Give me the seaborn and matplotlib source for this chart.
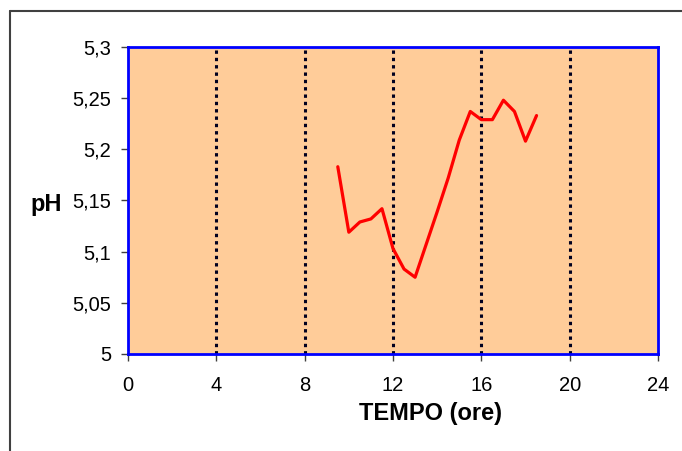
import matplotlib
matplotlib.use("Agg")
import matplotlib.pyplot as plt
import seaborn as sns
import pandas as pd
from matplotlib.lines import Line2D

# Data
tempo = [9.5, 10, 10.5, 11, 11.5, 12, 12.5, 13, 13.5, 14, 14.5, 15, 15.5, 16, 16.5, 17, 17.5, 18, 18.5]
ph = [5.183, 5.119, 5.129, 5.132, 5.142, 5.103, 5.083, 5.075, 5.107, 5.139, 5.172, 5.209, 5.237,
      5.229, 5.229, 5.248, 5.237, 5.208, 5.233]
x_ticks = [0, 4, 8, 12, 16, 20, 24]
y_ticks = [5.0, 5.05, 5.1, 5.15, 5.2, 5.25, 5.3]
y_labels = ["5", "5,05", "5,1", "5,15", "5,2", "5,25", "5,3"]

sns.set_style("white")
plt.rcParams['font.family'] = ['Liberation Sans', 'DejaVu Sans']
plt.rcParams['text.color'] = 'black'

df = pd.DataFrame({"TEMPO": tempo, "pH": ph})

fig = plt.figure(figsize=(6.82, 4.51), dpi=100)
ax = fig.add_axes([128/682, 1-354/451, 530/682, 307/451])
ax.set_facecolor("#FFCC99")

sns.lineplot(data=df, x="TEMPO", y="pH", ax=ax, color="#FF0000", linewidth=2.3, zorder=3)

ax.set_xlim(0, 24)
ax.set_ylim(5.0, 5.3)
ax.set_xticks(x_ticks)
ax.set_xticklabels([str(v) for v in x_ticks])
ax.set_yticks(y_ticks)
ax.set_yticklabels(y_labels)

for v in x_ticks[1:-1]:
    ax.axvline(v, color="#000020", linewidth=2.2, linestyle=(0, (1.1, 1.3)), zorder=2)

for s in ax.spines.values():
    s.set_color("#0000FF")
    s.set_linewidth(2.0)
    s.set_visible(True)

ax.tick_params(axis="both", which="major", direction="out", length=5, width=1,
               color="#404040", labelsize=14.5, labelcolor="black", pad=7,
               bottom=True, left=True)
ax.tick_params(axis="x", pad=11)

ax.set_xlabel("")
ax.set_ylabel("")
fig.text(430.5/682, 1-420/451, "TEMPO (ore)", fontsize=17, fontweight="bold",
         ha="center", va="baseline", color="black")
fig.text(46/682, 1-211/451, "pH", fontsize=17, fontweight="bold",
         ha="center", va="baseline", color="black")

# figure border (left and top)
fig.add_artist(Line2D([10/682, 10/682], [0, 1-11/451], transform=fig.transFigure,
                      color="#404040", linewidth=1.5))
fig.add_artist(Line2D([10/682, 1], [1-11/451, 1-11/451], transform=fig.transFigure,
                      color="#404040", linewidth=1.5))

fig.savefig("out.png", dpi=100)
